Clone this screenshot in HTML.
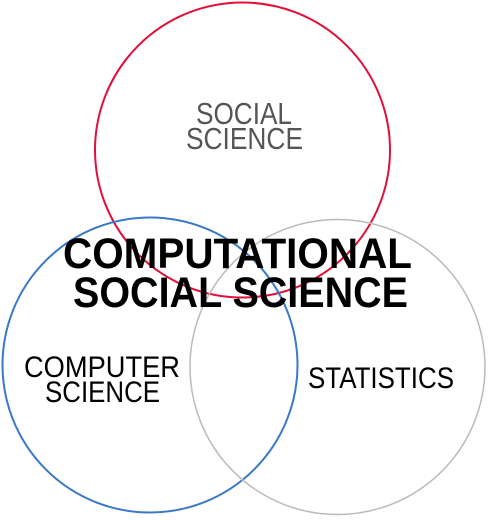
<!DOCTYPE html>
<html><head><meta charset="utf-8"><style>html,body{margin:0;padding:0;background:#fff;}svg{display:block;}</style></head>
<body>
<svg width="500" height="520" viewBox="0 0 500 520" xmlns="http://www.w3.org/2000/svg">
<circle cx="242.5" cy="150" r="147.5" fill="none" stroke="#e0103a" stroke-width="2"/>
<circle cx="150" cy="365" r="147.5" fill="none" stroke="#3a78c8" stroke-width="2"/>
<circle cx="337.5" cy="367" r="147.5" fill="none" stroke="#bbbbbb" stroke-width="1.5"/>
<g font-family="Liberation Sans, sans-serif">
<text x="196" y="124" font-size="31" fill="#555" textLength="96" lengthAdjust="spacingAndGlyphs">SOCIAL</text>
<text x="186" y="149" font-size="31" fill="#555" textLength="117" lengthAdjust="spacingAndGlyphs">SCIENCE</text>
<text x="63" y="268" font-size="43" font-weight="bold" fill="#000" textLength="349" lengthAdjust="spacingAndGlyphs">COMPUTATIONAL</text>
<text x="73" y="307" font-size="43" font-weight="bold" fill="#000" textLength="335" lengthAdjust="spacingAndGlyphs">SOCIAL SCIENCE</text>
<text x="24" y="377" font-size="30" fill="#000" textLength="156" lengthAdjust="spacingAndGlyphs">COMPUTER</text>
<text x="45" y="402" font-size="30" fill="#000" textLength="115" lengthAdjust="spacingAndGlyphs">SCIENCE</text>
<text x="308" y="388" font-size="30" fill="#000" textLength="146" lengthAdjust="spacingAndGlyphs">STATISTICS</text>
</g>
</svg>
</body></html>
